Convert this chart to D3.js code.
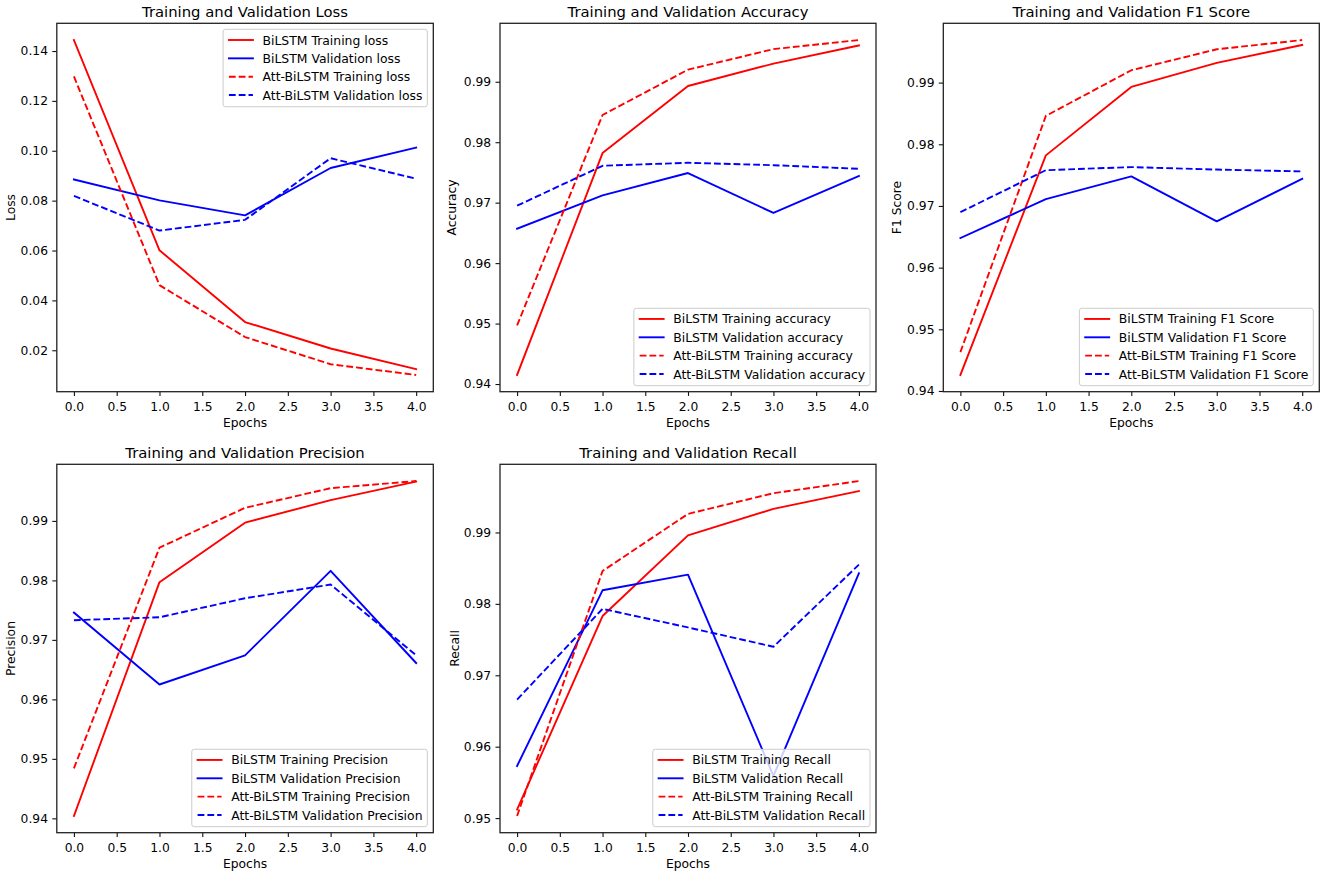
<!DOCTYPE html>
<html><head><meta charset="utf-8">
<script src="https://cdn.jsdelivr.net/npm/d3@7"></script>
<style>
body{margin:0;background:#fff}
svg{display:block}
text{font-family:"DejaVu Sans",sans-serif;fill:#000}
</style>
</head><body>
<svg id="c" width="1325" height="876"></svg>
<script>
// ---------- data ----------
const epochs = [0, 1, 2, 3, 4];
const xTicks = [0, 0.5, 1, 1.5, 2, 2.5, 3, 3.5, 4];
const xTickLabels = ["0.0", "0.5", "1.0", "1.5", "2.0", "2.5", "3.0", "3.5", "4.0"];

const seriesPrefixes = ["BiLSTM Training", "BiLSTM Validation", "Att-BiLSTM Training", "Att-BiLSTM Validation"];

// Loss
const lossBiTrain  = [0.1444, 0.0601, 0.0313, 0.0207, 0.0124];
const lossBiVal    = [0.0885, 0.0801, 0.0741, 0.0931, 0.1013];
const lossAttTrain = [0.1298, 0.0461, 0.0253, 0.0144, 0.0101];
const lossAttVal   = [0.0819, 0.0680, 0.0723, 0.0970, 0.0888];
const lossTicks = [0.02, 0.04, 0.06, 0.08, 0.10, 0.12, 0.14];
const lossTickLabels = ["0.02", "0.04", "0.06", "0.08", "0.10", "0.12", "0.14"];

// Accuracy
const accBiTrain  = [0.9415, 0.9782, 0.9893, 0.9930, 0.9960];
const accBiVal    = [0.9657, 0.9712, 0.9749, 0.9683, 0.9744];
const accAttTrain = [0.9497, 0.9845, 0.9920, 0.9954, 0.9969];
const accAttVal   = [0.9695, 0.9761, 0.9766, 0.9762, 0.9756];

// F1 Score
const f1BiTrain  = [0.9426, 0.9782, 0.9893, 0.9932, 0.9961];
const f1BiVal    = [0.9648, 0.9711, 0.9748, 0.9675, 0.9744];
const f1AttTrain = [0.9463, 0.9846, 0.9920, 0.9954, 0.9969];
const f1AttVal   = [0.9690, 0.9758, 0.9763, 0.9759, 0.9756];

// Precision
const precBiTrain  = [0.9404, 0.9797, 0.9897, 0.9935, 0.9966];
const precBiVal    = [0.9746, 0.9625, 0.9674, 0.9816, 0.9661];
const precAttTrain = [0.9484, 0.9855, 0.9922, 0.9955, 0.9967];
const precAttVal   = [0.9733, 0.9738, 0.9770, 0.9793, 0.9674];

// Recall
const recBiTrain  = [0.9512, 0.9783, 0.9896, 0.9933, 0.9958];
const recBiVal    = [0.9573, 0.9819, 0.9841, 0.9559, 0.9843];
const recAttTrain = [0.9503, 0.9846, 0.9926, 0.9955, 0.9972];
const recAttVal   = [0.9666, 0.9793, 0.9767, 0.9740, 0.9855];

const scoreTicks = [0.94, 0.95, 0.96, 0.97, 0.98, 0.99];
const scoreTickLabels = ["0.94", "0.95", "0.96", "0.97", "0.98", "0.99"];
const recallTicks = [0.95, 0.96, 0.97, 0.98, 0.99];
const recallTickLabels = ["0.95", "0.96", "0.97", "0.98", "0.99"];

// ---------- panels ----------
const panels = [
  {title: "Training and Validation Loss", ylabel: "Loss", suffix: "loss",
   series: [lossBiTrain, lossBiVal, lossAttTrain, lossAttVal], ticks: lossTicks, tickLabels: lossTickLabels,
   box: [56.8, 23.3, 433.3, 391.7], legend: "upper right", ylabOff: 41.8},
  {title: "Training and Validation Accuracy", ylabel: "Accuracy", suffix: "accuracy",
   series: [accBiTrain, accBiVal, accAttTrain, accAttVal], ticks: scoreTicks, tickLabels: scoreTickLabels,
   box: [500, 23.3, 876, 391.7], legend: "lower right", ylabOff: 44.3},
  {title: "Training and Validation F1 Score", ylabel: "F1 Score", suffix: "F1 Score",
   series: [f1BiTrain, f1BiVal, f1AttTrain, f1AttVal], ticks: scoreTicks, tickLabels: scoreTickLabels,
   box: [943.3, 23.3, 1319.3, 391.7], legend: "lower right", ylabOff: 42.5},
  {title: "Training and Validation Precision", ylabel: "Precision", suffix: "Precision",
   series: [precBiTrain, precBiVal, precAttTrain, precAttVal], ticks: scoreTicks, tickLabels: scoreTickLabels,
   box: [56.8, 464.3, 433.3, 832.7], legend: "lower right", ylabOff: 41.8},
  {title: "Training and Validation Recall", ylabel: "Recall", suffix: "Recall",
   series: [recBiTrain, recBiVal, recAttTrain, recAttVal], ticks: recallTicks, tickLabels: recallTickLabels,
   box: [500, 464.3, 876, 832.7], legend: "lower right", ylabOff: 41.5}
];

const colors = ["#ff0000", "#0000ff", "#ff0000", "#0000ff"];
const dashed = [false, false, true, true];
const LW = 1.9;
const DASH = "6.8,3.0";
const FS = 12.3;

const svg = d3.select("#c");
svg.append("rect").attr("width", 1325).attr("height", 876).attr("fill", "#fff");

panels.forEach((p, pi) => {
  const [L, T, R, B] = p.box;
  const all = p.series.flat();
  const mn = d3.min(all), mx = d3.max(all), m = (mx - mn) * 0.05;
  const x = d3.scaleLinear().domain([-0.2, 4.2]).range([L, R]);
  const y = d3.scaleLinear().domain([mn - m, mx + m]).range([B, T]);

  const g = svg.append("g");
  const clipId = "clip" + pi;
  g.append("clipPath").attr("id", clipId).append("rect")
    .attr("x", L).attr("y", T).attr("width", R - L).attr("height", B - T);

  // lines
  const line = d3.line().x((d, i) => x(epochs[i])).y(d => y(d));
  p.series.forEach((s, si) => {
    g.append("path").datum(s).attr("d", line)
      .attr("clip-path", `url(#${clipId})`)
      .attr("fill", "none").attr("stroke", colors[si]).attr("stroke-width", LW)
      .attr("stroke-linejoin", "round")
      .attr("stroke-linecap", dashed[si] ? "butt" : "square")
      .attr("stroke-dasharray", dashed[si] ? DASH : null);
  });

  // axes via d3
  const xAxis = d3.axisBottom(x).tickValues(xTicks).tickFormat((d, i) => xTickLabels[i])
    .tickSizeInner(4.2).tickSizeOuter(0).tickPadding(6);
  const yAxis = d3.axisLeft(y).tickValues(p.ticks).tickFormat((d, i) => p.tickLabels[i])
    .tickSizeInner(4.5).tickSizeOuter(0).tickPadding(4.3);
  const gx = g.append("g").attr("transform", `translate(0,${B})`).call(xAxis);
  const gy = g.append("g").attr("transform", `translate(${L},0)`).call(yAxis);
  [gx, gy].forEach(a => {
    a.select(".domain").remove();
    a.selectAll(".tick line").attr("stroke", "#111").attr("stroke-width", 1.1);
    a.selectAll(".tick text").attr("font-size", FS).attr("font-family", "DejaVu Sans").attr("fill", "#000");
  });

  // frame
  g.append("rect").attr("x", L).attr("y", T).attr("width", R - L).attr("height", B - T)
    .attr("fill", "none").attr("stroke", "#222").attr("stroke-width", 1.3);

  // title & labels
  g.append("text").attr("x", (L + R) / 2).attr("y", T - 6.8).attr("text-anchor", "middle")
    .attr("font-size", 14.8).text(p.title);
  g.append("text").attr("x", (L + R) / 2).attr("y", B + 35.7).attr("text-anchor", "middle")
    .attr("font-size", FS).text("Epochs");
  g.append("text").attr("transform", `translate(${L - p.ylabOff},${(T + B) / 2}) rotate(-90)`)
    .attr("text-anchor", "middle").attr("font-size", FS).text(p.ylabel);

  // legend
  const fs = 12.4, pad = 4.8, hl = 24, htp = 9.6, rowH = 18.35, topPad = 10.7, botPad = 11.7;
  const labels = seriesPrefixes.map(s => s + " " + p.suffix);
  const lg = g.append("g");
  const frame = lg.append("rect");
  const texts = labels.map(t => lg.append("text").attr("font-size", fs).text(t));
  const tw = d3.max(texts, t => t.node().getComputedTextLength());
  const W = pad + hl + htp + tw + pad + 1;
  const H = topPad + rowH * 3 + botPad;
  const bx = R - 6 - W;
  const by = p.legend === "upper right" ? T + 6 : B - 6 - H;
  frame.attr("x", bx).attr("y", by).attr("width", W).attr("height", H).attr("rx", 2.5)
    .attr("fill", "#fff").attr("fill-opacity", 0.8).attr("stroke", "#cccccc").attr("stroke-width", 1);
  labels.forEach((t, i) => {
    const cy = by + topPad + i * rowH;
    lg.append("line").attr("x1", bx + pad + 1).attr("x2", bx + pad + 1 + hl).attr("y1", cy).attr("y2", cy)
      .attr("stroke", colors[i]).attr("stroke-width", LW)
      .attr("stroke-linecap", dashed[i] ? "butt" : "square")
      .attr("stroke-dasharray", dashed[i] ? DASH : null);
    texts[i].attr("x", bx + pad + hl + htp + 1).attr("y", cy + 4.5);
  });
});
</script>
</body></html>
